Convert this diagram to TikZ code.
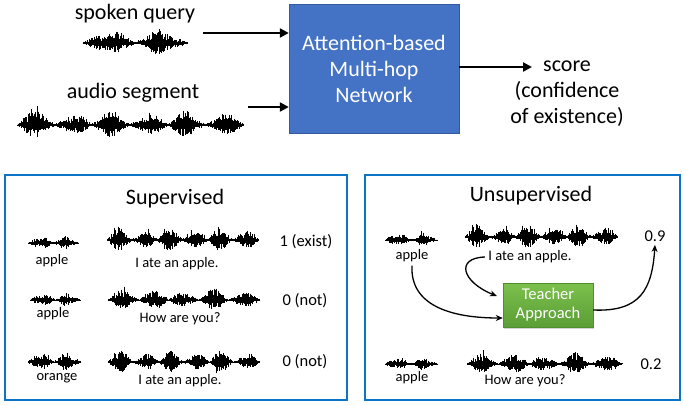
\documentclass[tikz,border=0pt]{standalone}
\usepackage{fontspec}
\setmainfont{Carlito}
\usetikzlibrary{arrows.meta,shadows}
\definecolor{netblue}{HTML}{4472C4}
\definecolor{framblue}{HTML}{0B74C6}
\definecolor{gtop}{HTML}{7CC04C}
\definecolor{gbot}{HTML}{5A9E36}
\newcommand\wavef[6]{%
  \pgfmathsetseed{#6}%
  \draw[wavel] (#1,#3) -- (#2,#3);
  \pgfmathtruncatemacro\wN{(#2-#1)/0.5}%
  \foreach \k in {0,...,\wN}{%
    \pgfmathsetmacro\wt{\k/\wN}%
    \pgfmathsetmacro\wx{#1+\k*0.5}%
    \pgfmathsetmacro\wenv{0.1+0.9*(abs(sin(#5*180*\wt)))^1.4*(0.75+0.25*sin(1100*\wt+40))}%
    \pgfmathsetmacro\wu{#4*\wenv*(0.25+0.75*rnd^1.6)+(rnd>0.97)*#4*0.35*\wenv}%
    \pgfmathsetmacro\wd{#4*\wenv*(0.25+0.6*rnd^1.6)+(rnd>0.97)*#4*0.25*\wenv}%
    \draw[wavel] (\wx,#3-\wu) -- (\wx,#3+\wd);
  }%
}
\begin{document}
\begin{tikzpicture}[x=1pt,y=-1pt,
  wavel/.style={line width=0.7pt,black},
  big/.style={font=\fontsize{22}{26}\selectfont},
  small/.style={font=\fontsize{14.5}{16}\selectfont},
  val/.style={font=\fontsize{16.5}{19}\selectfont},
  bigarrow/.style={line width=2.8pt,-{Triangle[length=9pt,width=9pt]}},
  curvarrow/.style={line width=1.3pt,-{Stealth[length=7pt,width=6pt]}},
  frame/.style={draw=framblue,line width=2.8pt},
  netbox/.style={fill=netblue,draw=netblue!80!black,line width=0.4pt,text=white,align=center,inner sep=0pt},
  teachbox/.style={top color=gtop,bottom color=gbot,draw=gbot!90!black,line width=0.4pt,text=white,align=center,inner sep=0pt,
     drop shadow={shadow xshift=1pt,shadow yshift=-1.5pt,opacity=0.35}}]
\useasboundingbox (0,0) rectangle (684,404);

% ---------- top part ----------
\node[big] (sq) at (135,14) {spoken query};
\node[big] (as) at (133,93) {audio segment};
\wavef{83}{187}{43}{15}{2}{11}
\wavef{17}{243}{125}{16}{6}{23}

\node[netbox,big,minimum width=170pt,minimum height=129pt] (net) at (374,68.5)
  {Attention-based\\Multi-hop\\Network};

\coordinate (q1) at (203,33);
\coordinate (q2) at (248,107);
\draw[bigarrow] (q1) -- (net.west |- q1);
\draw[bigarrow] (q2) -- (net.west |- q2);

\node[big,align=center] (score) at (567,94) {score\\(confidence\\of existence)};
\coordinate (se) at (532,67);
\draw[bigarrow] (net.east |- se) -- (se);

% ---------- supervised ----------
\node[frame,minimum width=342pt,minimum height=225pt,inner sep=0pt] (sup) at (176,287.5) {};
\node[big] (supt) at (175,199) {Supervised};

\wavef{28}{78}{243}{8}{2}{31}
\wavef{107}{258}{240}{14}{6}{41}
\node[small] (s1a) at (52,261) {apple};
\node[small] (s1b) at (177,264) {I ate an apple.};
\node[val] (s1c) at (306,242) {1 (exist)};

\wavef{30}{80}{300}{8}{2}{51}
\wavef{108}{259}{300}{12}{5}{61}
\node[small] (s2a) at (53,314) {apple};
\node[small] (s2b) at (180,319) {How are you?};
\node[val] (s2c) at (305,301) {0 (not)};

\wavef{28}{80}{362}{12}{2}{71}
\wavef{108}{259}{362}{13}{6}{81}
\node[small] (s3a) at (57,378) {orange};
\node[small] (s3b) at (180,381) {I ate an apple.};
\node[val] (s3c) at (305,362) {0 (not)};

% ---------- unsupervised ----------
\node[frame,minimum width=315pt,minimum height=225pt,inner sep=0pt] (uns) at (522.5,287.5) {};
\node[big] (unst) at (531,196) {Unsupervised};

\wavef{385}{437}{240}{8}{2}{91}
\wavef{465}{617}{237}{14}{6}{41}
\node[small] (u1a) at (412,256) {apple};
\node[small] (u1b) at (530,257) {I ate an apple.};
\node[val] (u1c) at (655,236) {0.9};

\node[teachbox,val,minimum width=90pt,minimum height=44pt] (teach) at (548,305)
  {Teacher\\Approach};

\draw[curvarrow] (u1a.south) .. controls (410,305) and (450,318) .. ([yshift=-13pt]teach.west);
\draw[curvarrow] (u1b.west) .. controls (455,258) and (462,282) .. ([xshift=-6pt,yshift=9pt]teach.west);
\draw[curvarrow] ([yshift=-5pt]teach.east) .. controls (640,312) and (652,290) .. (u1c.south);

\wavef{385}{437}{364}{8}{2}{101}
\wavef{467}{622}{364}{12}{5}{61}
\node[small] (u2a) at (412,378) {apple};
\node[small] (u2b) at (525,381) {How are you?};
\node[val] (u2c) at (651,364) {0.2};
\end{tikzpicture}
\end{document}
